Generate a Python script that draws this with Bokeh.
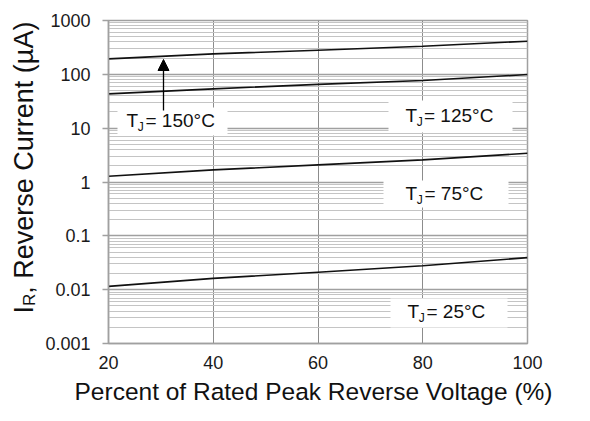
import math
from bokeh.plotting import figure
from bokeh.models import Label, Arrow, NormalHead, FixedTicker, Range1d
from bokeh.layouts import row, column
from bokeh.embed import file_html
from bokeh.resources import INLINE

# ---- data ----
x_pct = [20, 40, 60, 80, 100]
ir_150 = [194, 240, 280, 333, 412]
ir_125 = [43.4, 53.7, 65.0, 76.7, 99.0]
ir_75 = [1.28, 1.68, 2.08, 2.58, 3.42]
ir_25 = [0.0115, 0.0162, 0.0211, 0.0279, 0.0394]

x_ticks = [20, 40, 60, 80, 100]
y_ticks = [0.001, 0.01, 0.1, 1, 10, 100, 1000]
y_tick_labels = ["0.001", "0.01", "0.1", "1", "10", "100", "1000"]
y_minor = [m * t for t in y_ticks[:-1] for m in range(2, 10)]

FONT = "Liberation Sans"
MID = 0.3465          # em distance from text middle to alphabetic baseline
TOTAL_W, TOTAL_H = 574, 405
YL_W = 40            # strip holding the y title
TOP_H = 377          # chart row height; the x title strip is below
FX0, FX1, FY0, FY1 = 108, 527, 20, 343   # frame in page pixels


def dx(px):
    return 20 + (px - FX0) * 80 / (FX1 - FX0)


def dy(py):
    return 10 ** (3 - (py - FY0) * 6 / (FY1 - FY0))


def blank(w, h, xr, yr, top=0, bottom=0):
    f = figure(width=w, height=h, x_range=xr, y_range=yr, output_backend="svg",
               toolbar_location=None, x_axis_location=None, y_axis_location=None,
               title=None, min_border=0, min_border_left=0, min_border_right=0,
               min_border_top=top, min_border_bottom=bottom)
    f.outline_line_color = None
    f.xgrid.visible = False
    f.ygrid.visible = False
    f.background_fill_color = "white"
    f.border_fill_color = "white"
    return f


main_w = TOTAL_W - YL_W
p = figure(width=main_w, height=TOP_H, y_axis_type="log", x_range=(20, 100),
           y_range=(0.001, 1000), output_backend="svg", toolbar_location=None,
           min_border_left=FX0 - YL_W, min_border_right=main_w - (FX1 - YL_W),
           min_border_top=FY0, min_border_bottom=TOP_H - FY1)
p.background_fill_color = "white"
p.border_fill_color = "white"
p.outline_line_color = "#a0a0a0"
p.outline_line_width = 1.5

p.xaxis.ticker = FixedTicker(ticks=x_ticks)
p.yaxis.ticker = FixedTicker(ticks=y_ticks, minor_ticks=y_minor)
p.yaxis.major_label_overrides = dict(zip(y_ticks, y_tick_labels))
for ax in (p.xaxis[0], p.yaxis[0]):
    ax.axis_line_color = "#a0a0a0"
    ax.axis_line_width = 1.5
    ax.major_tick_line_color = "#a0a0a0"
    ax.major_tick_line_width = 1.5
    ax.minor_tick_line_color = None
    ax.major_label_text_font = FONT
    ax.major_label_text_font_size = "18px"
    ax.major_label_text_color = "#1a1a1a"
p.xaxis.major_tick_out = 0
p.xaxis.major_tick_in = 0
p.xaxis.major_label_standoff = 12
p.yaxis.major_tick_out = 6
p.yaxis.major_tick_in = 0
p.yaxis.major_label_standoff = 12

p.xgrid.grid_line_color = "#8c8c8c"
p.xgrid.grid_line_width = 1
p.ygrid.grid_line_color = "#a0a0a0"
p.ygrid.grid_line_width = 1.5
p.ygrid.minor_grid_line_color = "#c4c4c4"
p.ygrid.minor_grid_line_width = 1

# white boxes behind the curve labels
boxes = [(117, 227, 107, 135), (388, 512, 100, 132), (383, 508, 180, 207), (390, 507, 298, 327)]
p.quad(left=[dx(b[0]) for b in boxes], right=[dx(b[1]) for b in boxes],
       top=[dy(b[2]) for b in boxes], bottom=[dy(b[3]) for b in boxes],
       fill_color="white", line_color=None)

for ys in (ir_150, ir_125, ir_75, ir_25):
    p.line(x_pct, ys, line_color="#111111", line_width=1.6)


def txt(fig, x, y, text, size, **kw):
    fig.add_layout(Label(x=x, y=y, text=text, text_font=FONT,
                         text_font_size=f"{size}px", text_color=kw.pop("color", "#111111"),
                         text_baseline="middle", text_align=kw.pop("align", "left"), **kw))


def tj(px, base, rest, gap=19.0):
    txt(p, dx(px), dy(base - MID * 19), "T", 19)
    txt(p, dx(px + 11.2), dy(base + 4 - MID * 12), "J", 12)
    txt(p, dx(px + gap), dy(base - MID * 19), rest, 19)


tj(126, 127, " = 150°C")
tj(405, 122, "= 125°C", gap=18.5)
tj(405, 200, " = 75°C")
tj(407, 318, " = 25°C")

p.add_layout(Arrow(end=NormalHead(size=11, fill_color="black", line_color="black"),
                   x_start=dx(163), y_start=dy(110), x_end=dx(163), y_end=dy(59),
                   line_color="black", line_width=1.3))

# y title strip: same frame rows as the chart (page y 20..343), page pixel coords
yfig = blank(YL_W, TOP_H, Range1d(0, YL_W), Range1d(FY1, FY0), top=FY0, bottom=TOP_H - FY1)
ang = math.pi / 2
base_x = 33
y_start = 313
w_i = 0.278 * 27
w_r = 0.722 * 17
w_rest = 10.078 * 27
txt(yfig, base_x - MID * 27, y_start - w_i / 2, "I", 27, angle=ang, align="center")
txt(yfig, base_x + 2 - MID * 17, y_start - w_i - w_r / 2, "R", 17, angle=ang, align="center")
txt(yfig, base_x - MID * 27, y_start - w_i - w_r - w_rest / 2, ", Reverse Current (µA)", 27,
    angle=ang, align="center")

# x title strip
xfig = blank(TOTAL_W, TOTAL_H - TOP_H, Range1d(0, TOTAL_W), Range1d(TOTAL_H, TOP_H))
txt(xfig, 313, 399.5 - MID * 24.5, "Percent of Rated Peak Reverse Voltage (%)", 24.5, align="center")

layout = column(row(yfig, p, spacing=0), xfig, spacing=0)
open("out.html", "w").write(file_html(layout, INLINE))
